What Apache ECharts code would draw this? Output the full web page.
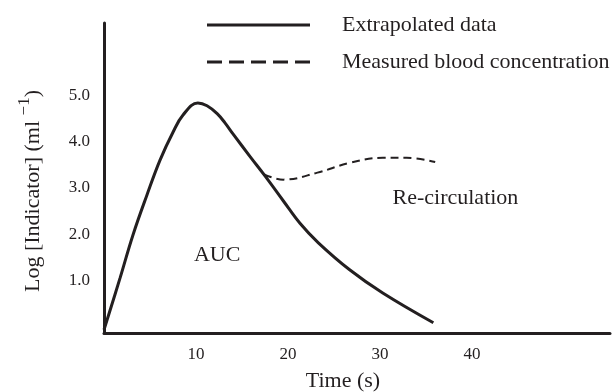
<!DOCTYPE html>
<html>
<head>
<meta charset="utf-8">
<script src="https://cdn.jsdelivr.net/npm/echarts@6/dist/echarts.min.js"></script>
<style>
  html, body { margin: 0; padding: 0; background: #fff; }
  #chart { width: 616px; height: 392px; }
</style>
</head>
<body>
<div id="chart"></div>
<script>
// time (s), log indicator
const extrapolated = [
  [0, -0.05], [1.74, 1.06], [3.15, 1.99], [4.67, 2.85], [6.09, 3.6],
  [7.5, 4.2], [8.59, 4.57], [10.2, 4.83], [11.2, 4.77], [12.3, 4.6],
  [13.15, 4.4], [14.0, 4.17], [15.9, 3.67], [17.5, 3.26], [19.5, 2.72],
  [21.3, 2.24], [23.3, 1.82], [26.7, 1.24], [30.3, 0.74], [35.8, 0.1]
];
const measured = [
  [17.4, 3.29], [19.5, 3.18], [23.2, 3.33], [26.7, 3.54],
  [30.3, 3.65], [32.9, 3.65], [36.0, 3.56]
];
const annotations = [
  { name: 'AUC', value: [12.3, 1.56] },
  { name: 'Re-circulation', value: [38.2, 2.79] }
];
const xTicks = [10, 20, 30, 40];
const yTicks = [1, 2, 3, 4, 5];

const ink = '#231f20';
const serif = "'Liberation Serif', 'Times New Roman', serif";

// legend keys: a plain bar and a row of dashes, 103 x 3
const solidKey = 'path://M0,0h103v3h-103z';
const dashedKey = 'path://M0,0h15v3h-15zM22,0h15v3h-15zM44,0h15v3h-15zM66,0h15v3h-15zM88,0h15v3h-15z';

const chart = echarts.init(document.getElementById('chart'), null, { renderer: 'canvas' });

chart.setOption({
  animation: false,
  backgroundColor: '#fff',
  textStyle: { fontFamily: serif, color: ink },
  grid: { left: 104, right: 6, top: 23, bottom: 59, outerBoundsMode: 'none', containLabel: false },
  legend: {
    orient: 'vertical',
    left: 207,
    top: 14,
    padding: 0,
    itemWidth: 103,
    itemHeight: 22,
    itemGap: 15,
    selectedMode: false,
    textStyle: { fontFamily: serif, fontSize: 22, color: ink, padding: [0, 0, 0, 27] },
    data: [
      { name: 'Extrapolated data', icon: solidKey, itemStyle: { color: ink } },
      { name: 'Measured blood concentration', icon: dashedKey, itemStyle: { color: ink } }
    ]
  },
  xAxis: {
    type: 'value',
    min: 0,
    max: 55,
    name: 'Time (s)',
    nameLocation: 'middle',
    nameGap: 37,
    nameTextStyle: { fontFamily: serif, fontSize: 22, color: ink, padding: [0, 28, 0, 0] },
    axisLine: { onZero: false, lineStyle: { color: ink, width: 3 } },
    axisTick: { show: false },
    splitLine: { show: false },
    axisLabel: {
      customValues: xTicks,
      margin: 13,
      fontFamily: serif,
      fontSize: 17,
      color: ink
    }
  },
  yAxis: {
    type: 'value',
    min: -0.12,
    max: 6.55,
    name: '{m|Log [Indicator] (ml }{s|−1}{m|)}',
    nameLocation: 'middle',
    nameRotate: 90,
    nameGap: 60,
    nameTextStyle: {
      fontFamily: serif,
      color: ink,
      padding: [0, 26, 0, 0],
      rich: {
        m: { fontFamily: serif, fontSize: 22, lineHeight: 28, color: ink, verticalAlign: 'bottom' },
        s: { fontFamily: serif, fontSize: 17, lineHeight: 17, color: ink, verticalAlign: 'top' }
      }
    },
    axisLine: { show: true, onZero: false, lineStyle: { color: ink, width: 3 } },
    axisTick: { show: false },
    splitLine: { show: false },
    axisLabel: {
      customValues: yTicks,
      margin: 14,
      fontFamily: serif,
      fontSize: 17,
      color: ink,
      formatter: (v) => Number(v).toFixed(1)
    }
  },
  series: [
    {
      name: 'Extrapolated data',
      type: 'line',
      data: extrapolated,
      smooth: 0.4,
      symbol: 'none',
      lineStyle: { color: ink, width: 3 },
      itemStyle: { color: ink }
    },
    {
      name: 'Measured blood concentration',
      type: 'line',
      data: measured,
      smooth: 0.4,
      symbol: 'none',
      lineStyle: { color: ink, width: 2, type: [8, 5] },
      itemStyle: { color: ink }
    },
    {
      name: 'notes',
      type: 'scatter',
      data: annotations,
      symbolSize: 1,
      silent: true,
      itemStyle: { color: 'rgba(0,0,0,0)', opacity: 1 },
      label: {
        show: true,
        position: 'inside',
        formatter: (p) => p.name,
        fontFamily: serif,
        fontSize: 22,
        color: ink,
        textBorderWidth: 0
      }
    }
  ]
});
</script>
</body>
</html>
